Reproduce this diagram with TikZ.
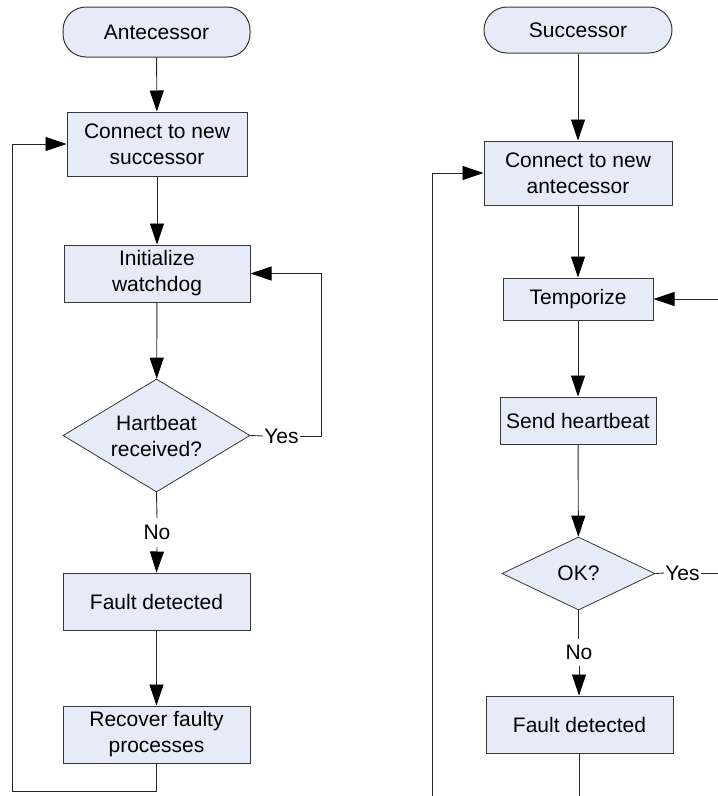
\documentclass[tikz,border=0pt]{standalone}
\usepackage{fontspec}
\setmainfont{Liberation Sans}
\usetikzlibrary{shapes.geometric,arrows.meta}
\definecolor{boxfill}{RGB}{230,236,247}
\definecolor{edge}{RGB}{55,55,55}
\begin{document}
\begin{tikzpicture}[x=1pt,y=-1pt,
  font=\fontsize{21}{26}\selectfont,
  every node/.style={inner sep=0pt, align=center},
  proc/.style={draw=edge, fill=boxfill, line width=1pt, rectangle},
  term/.style={draw=edge, fill=boxfill, line width=1pt, rectangle, rounded corners=23pt},
  decision/.style={draw=edge, fill=boxfill, line width=0.8pt, diamond, inner sep=0pt},
  lbl/.style={inner xsep=1pt, inner ysep=6pt},
  link/.style={draw=black!85, line width=0.9pt},
  flow/.style={link, -{Triangle[length=21pt,width=14pt,black]}}]
\useasboundingbox (0,0) rectangle (718,796);

% left column: antecessor side
\node[term, minimum width=187pt, minimum height=50pt] (ant) at (156.5,32) {Antecessor};
\node[proc, minimum width=180pt, minimum height=64pt] (c1) at (157,144) {Connect to new\\successor};
\node[proc, minimum width=186pt, minimum height=57pt] (iw) at (157,273.5) {Initialize\\watchdog};
\node[decision, minimum width=187pt, minimum height=113pt, aspect=1.65] (hb) at (156.5,435.5) {Hartbeat\\received?};
\node[proc, minimum width=187pt, minimum height=57pt] (fd1) at (156.5,601.5) {Fault detected};
\node[proc, minimum width=187pt, minimum height=57pt] (rf) at (156.5,734.5) {Recover faulty\\processes};
\node[lbl] (yes1) at (281.5,436) {Yes};
\node[lbl, minimum height=29pt] (no1) at (157,532.5) {No};
\coordinate (r1) at (321,436);
\coordinate (l1) at (12,791);

\draw[flow] (ant) -- (c1);
\draw[flow] (c1) -- (iw);
\draw[flow] (iw) -- (hb);
\draw[link] (hb.east) -- (yes1.west);
\draw[flow] (yes1.east) -- (r1) |- (iw.east);
\draw[link] (hb.south) -- (no1.north);
\draw[flow] (no1.south) -- (fd1.north);
\draw[flow] (fd1) -- (rf);
\draw[flow] (rf.south) |- (l1) |- (c1.west);

% right column: successor side
\node[term, minimum width=188pt, minimum height=46pt] (suc) at (578,30) {Successor};
\node[proc, minimum width=188pt, minimum height=64pt] (c2) at (578,173) {Connect to new\\antecessor};
\node[proc, minimum width=150pt, minimum height=42pt] (tz) at (578,299) {Temporize};
\node[proc, minimum width=156pt, minimum height=47pt] (sh) at (578,420.5) {Send heartbeat};
\node[decision, minimum width=153pt, minimum height=73pt, aspect=2.1] (ok) at (578.5,573.5) {OK?};
\node[proc, minimum width=187pt, minimum height=57pt] (fd2) at (579.5,724.5) {Fault detected};
\node[lbl] (yes2) at (682.5,573) {Yes};
\node[lbl, minimum height=27pt] (no2) at (579,652.5) {No};
\coordinate (re1) at (718,573);
\coordinate (re2) at (718,299);
\coordinate (rb1) at (579.5,796);
\coordinate (rb2) at (432,796);

\draw[flow] (suc) -- (c2);
\draw[flow] (c2) -- (tz);
\draw[flow] (tz) -- (sh);
\draw[flow] (sh) -- (ok);
\draw[link] (ok.east) -- (yes2.west);
\draw[link] (yes2.east) -- (re1);
\draw[flow] (re2) -- (tz.east);
\draw[link] (ok.south) -- (no2.north -| ok.south);
\draw[flow] (no2.south) -- (no2.south |- fd2.north);
\draw[link] (fd2.south) -- (rb1);
\draw[flow] (rb2) |- (c2.west);
\end{tikzpicture}
\end{document}
